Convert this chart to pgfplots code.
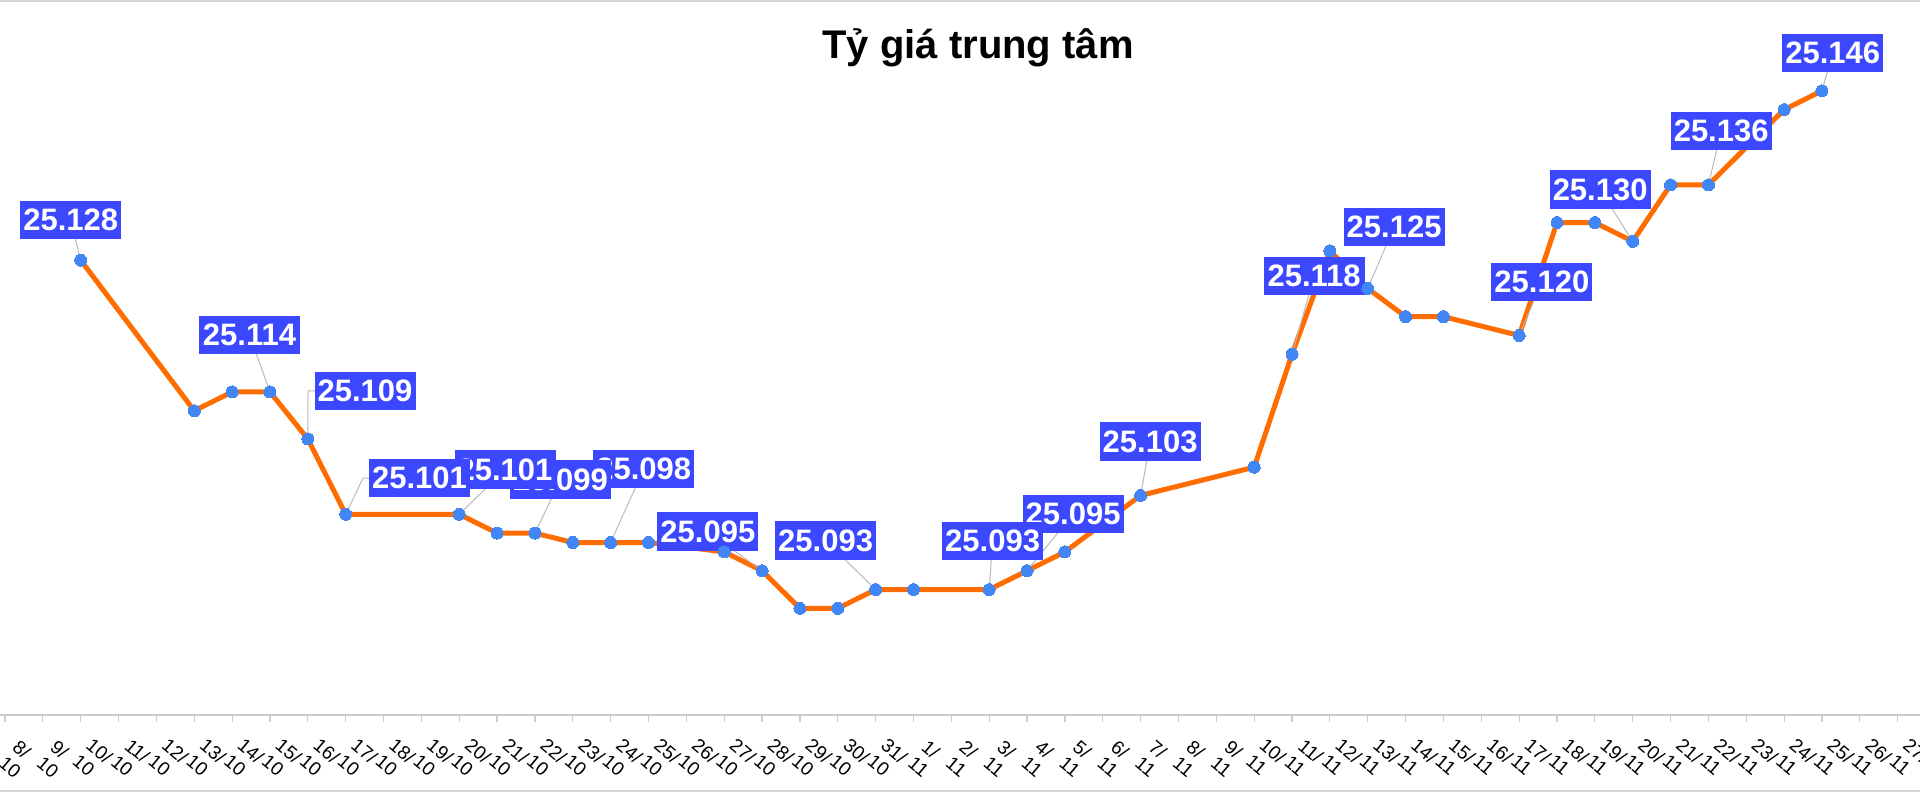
\documentclass[border=0pt]{standalone}
\usepackage{fontspec}
\setmainfont{Liberation Sans}
\usepackage{pgfplots}
\pgfplotsset{compat=1.18}
\definecolor{lineor}{RGB}{255,109,1}
\definecolor{mkblue}{RGB}{66,133,244}
\definecolor{labblue}{RGB}{59,72,255}
\definecolor{leadgray}{RGB}{185,185,185}
\definecolor{axgray}{RGB}{204,204,204}
\begin{document}
\begin{tikzpicture}[
  lab/.style={fill=labblue, text=white, font=\bfseries\fontsize{15.5}{18}\selectfont, minimum width=50.5pt, minimum height=19.25pt, inner sep=0pt},
  ld/.style={draw=leadgray, line width=0.5pt}]
\useasboundingbox (0pt,0pt) rectangle (960pt,396pt);
\draw[axgray!80, line width=0.75pt] (0pt,395.6pt) -- (960pt,395.6pt);
\draw[axgray!80, line width=0.75pt] (0pt,0.6pt) -- (960pt,0.6pt);
\node[font=\bfseries\fontsize{20}{24}\selectfont, anchor=base] at (489pt,366.6pt) {Tỷ giá trung tâm};
\begin{axis}[
  at={(0pt,38.5pt)}, anchor=south west,
  scale only axis, width=960pt, height=357.5pt,
  xmin=-0.132, xmax=50.59, ymin=25.07967, ymax=25.15565,
  clip=false,
  axis x line=bottom, axis y line=none,
  x axis line style={-, draw=axgray, line width=0.75pt},
  ytick=\empty,
  xtick={0,...,50},
  xticklabels={{8/\\10},{9/\\10},{10/\\10},{11/\\10},{12/\\10},{13/\\10},{14/\\10},{15/\\10},{16/\\10},{17/\\10},{18/\\10},{19/\\10},{20/\\10},{21/\\10},{22/\\10},{23/\\10},{24/\\10},{25/\\10},{26/\\10},{27/\\10},{28/\\10},{29/\\10},{30/\\10},{31/\\10},{1/\\11},{2/\\11},{3/\\11},{4/\\11},{5/\\11},{6/\\11},{7/\\11},{8/\\11},{9/\\11},{10/\\11},{11/\\11},{12/\\11},{13/\\11},{14/\\11},{15/\\11},{16/\\11},{17/\\11},{18/\\11},{19/\\11},{20/\\11},{21/\\11},{22/\\11},{23/\\11},{24/\\11},{25/\\11},{26/\\11},{27/\\11}},
  tick align=outside, major tick length=3.5pt,
  xtick style={draw=axgray, line width=0.6pt},
  xticklabel style={font=\fontsize{9.5}{10.5}\selectfont, align=left, anchor=center, xshift=6pt, yshift=-18.5pt, rotate=-40, inner sep=0pt},
]
\addplot[color=lineor, line width=2.5pt, mark=*, mark size=3pt, mark options={draw=mkblue, fill=mkblue, line width=0pt}] table {
x y
2 25.128
5 25.112
6 25.114
7 25.114
8 25.109
9 25.101
12 25.101
13 25.099
14 25.099
15 25.098
16 25.098
17 25.098
19 25.097
20 25.095
21 25.091
22 25.091
23 25.093
24 25.093
26 25.093
27 25.095
28 25.097
30 25.103
33 25.106
34 25.118
35 25.129
36 25.125
37 25.122
38 25.122
40 25.120
41 25.132
42 25.132
43 25.130
44 25.136
45 25.136
47 25.144
48 25.146
};
% leaders
\draw[ld] (axis cs:48,25.146) -- (axis cs:48.283,25.15002);
\draw[ld] (axis cs:45,25.136) -- (axis cs:45.337,25.14173);
\draw[ld] (axis cs:43,25.130) -- (axis cs:42.140,25.13549);
\draw[ld] (axis cs:40,25.120) -- (axis cs:40.600,25.12568);
\draw[ld] (axis cs:36,25.125) -- (axis cs:36.697,25.13153);
\draw[ld] (axis cs:34,25.118) -- (axis cs:34.584,25.12632);
\draw[ld] (axis cs:30,25.103) -- (axis cs:30.251,25.10871);
\draw[ld] (axis cs:27,25.095) -- (axis cs:28.217,25.10103);
\draw[ld] (axis cs:26,25.093) -- (axis cs:26.090,25.09818);
\draw[ld] (axis cs:23,25.093) -- (axis cs:21.678,25.09821);
\draw[ld] (axis cs:20,25.095) -- (axis cs:18.568,25.09917);
\draw[ld] (axis cs:16,25.098) -- (axis cs:16.875,25.10581);
\draw[ld] (axis cs:14,25.099) -- (axis cs:14.676,25.10469);
\draw[ld] (axis cs:12,25.101) -- (axis cs:13.210,25.10576);
\draw[ld] (axis cs:9,25.101) -- (axis cs:9.458,25.10485) -- (axis cs:10.951,25.10485);
\draw[ld] (axis cs:8,25.109) -- (axis cs:8.005,25.11410) -- (axis cs:9.511,25.11410);
\draw[ld] (axis cs:7,25.114) -- (axis cs:6.460,25.12005);
\draw[ld] (axis cs:2,25.128) -- (axis cs:1.736,25.13227);
% labels, later ones underneath
\node[lab] at (axis cs:48.283,25.15002) {25.146};
\node[lab] at (axis cs:45.337,25.14173) {25.136};
\node[lab] at (axis cs:42.140,25.13549) {25.130};
\node[lab] at (axis cs:40.600,25.12568) {25.120};
\node[lab] at (axis cs:36.697,25.13153) {25.125};
\node[lab] at (axis cs:34.584,25.12632) {25.118};
\node[lab] at (axis cs:30.251,25.10871) {25.103};
\node[lab] at (axis cs:28.217,25.10103) {25.095};
\node[lab] at (axis cs:26.090,25.09818) {25.093};
\node[lab] at (axis cs:21.678,25.09821) {25.093};
\node[lab] at (axis cs:18.568,25.09917) {25.095};
\node[lab] at (axis cs:16.875,25.10581) {25.098};
\node[lab] at (axis cs:14.676,25.10469) {25.099};
\node[lab] at (axis cs:13.210,25.10576) {25.101};
\node[lab] at (axis cs:10.951,25.10485) {25.101};
\node[lab] at (axis cs:9.511,25.11410) {25.109};
\node[lab] at (axis cs:6.460,25.12005) {25.114};
\node[lab] at (axis cs:1.736,25.13227) {25.128};
\end{axis}
\end{tikzpicture}
\end{document}
